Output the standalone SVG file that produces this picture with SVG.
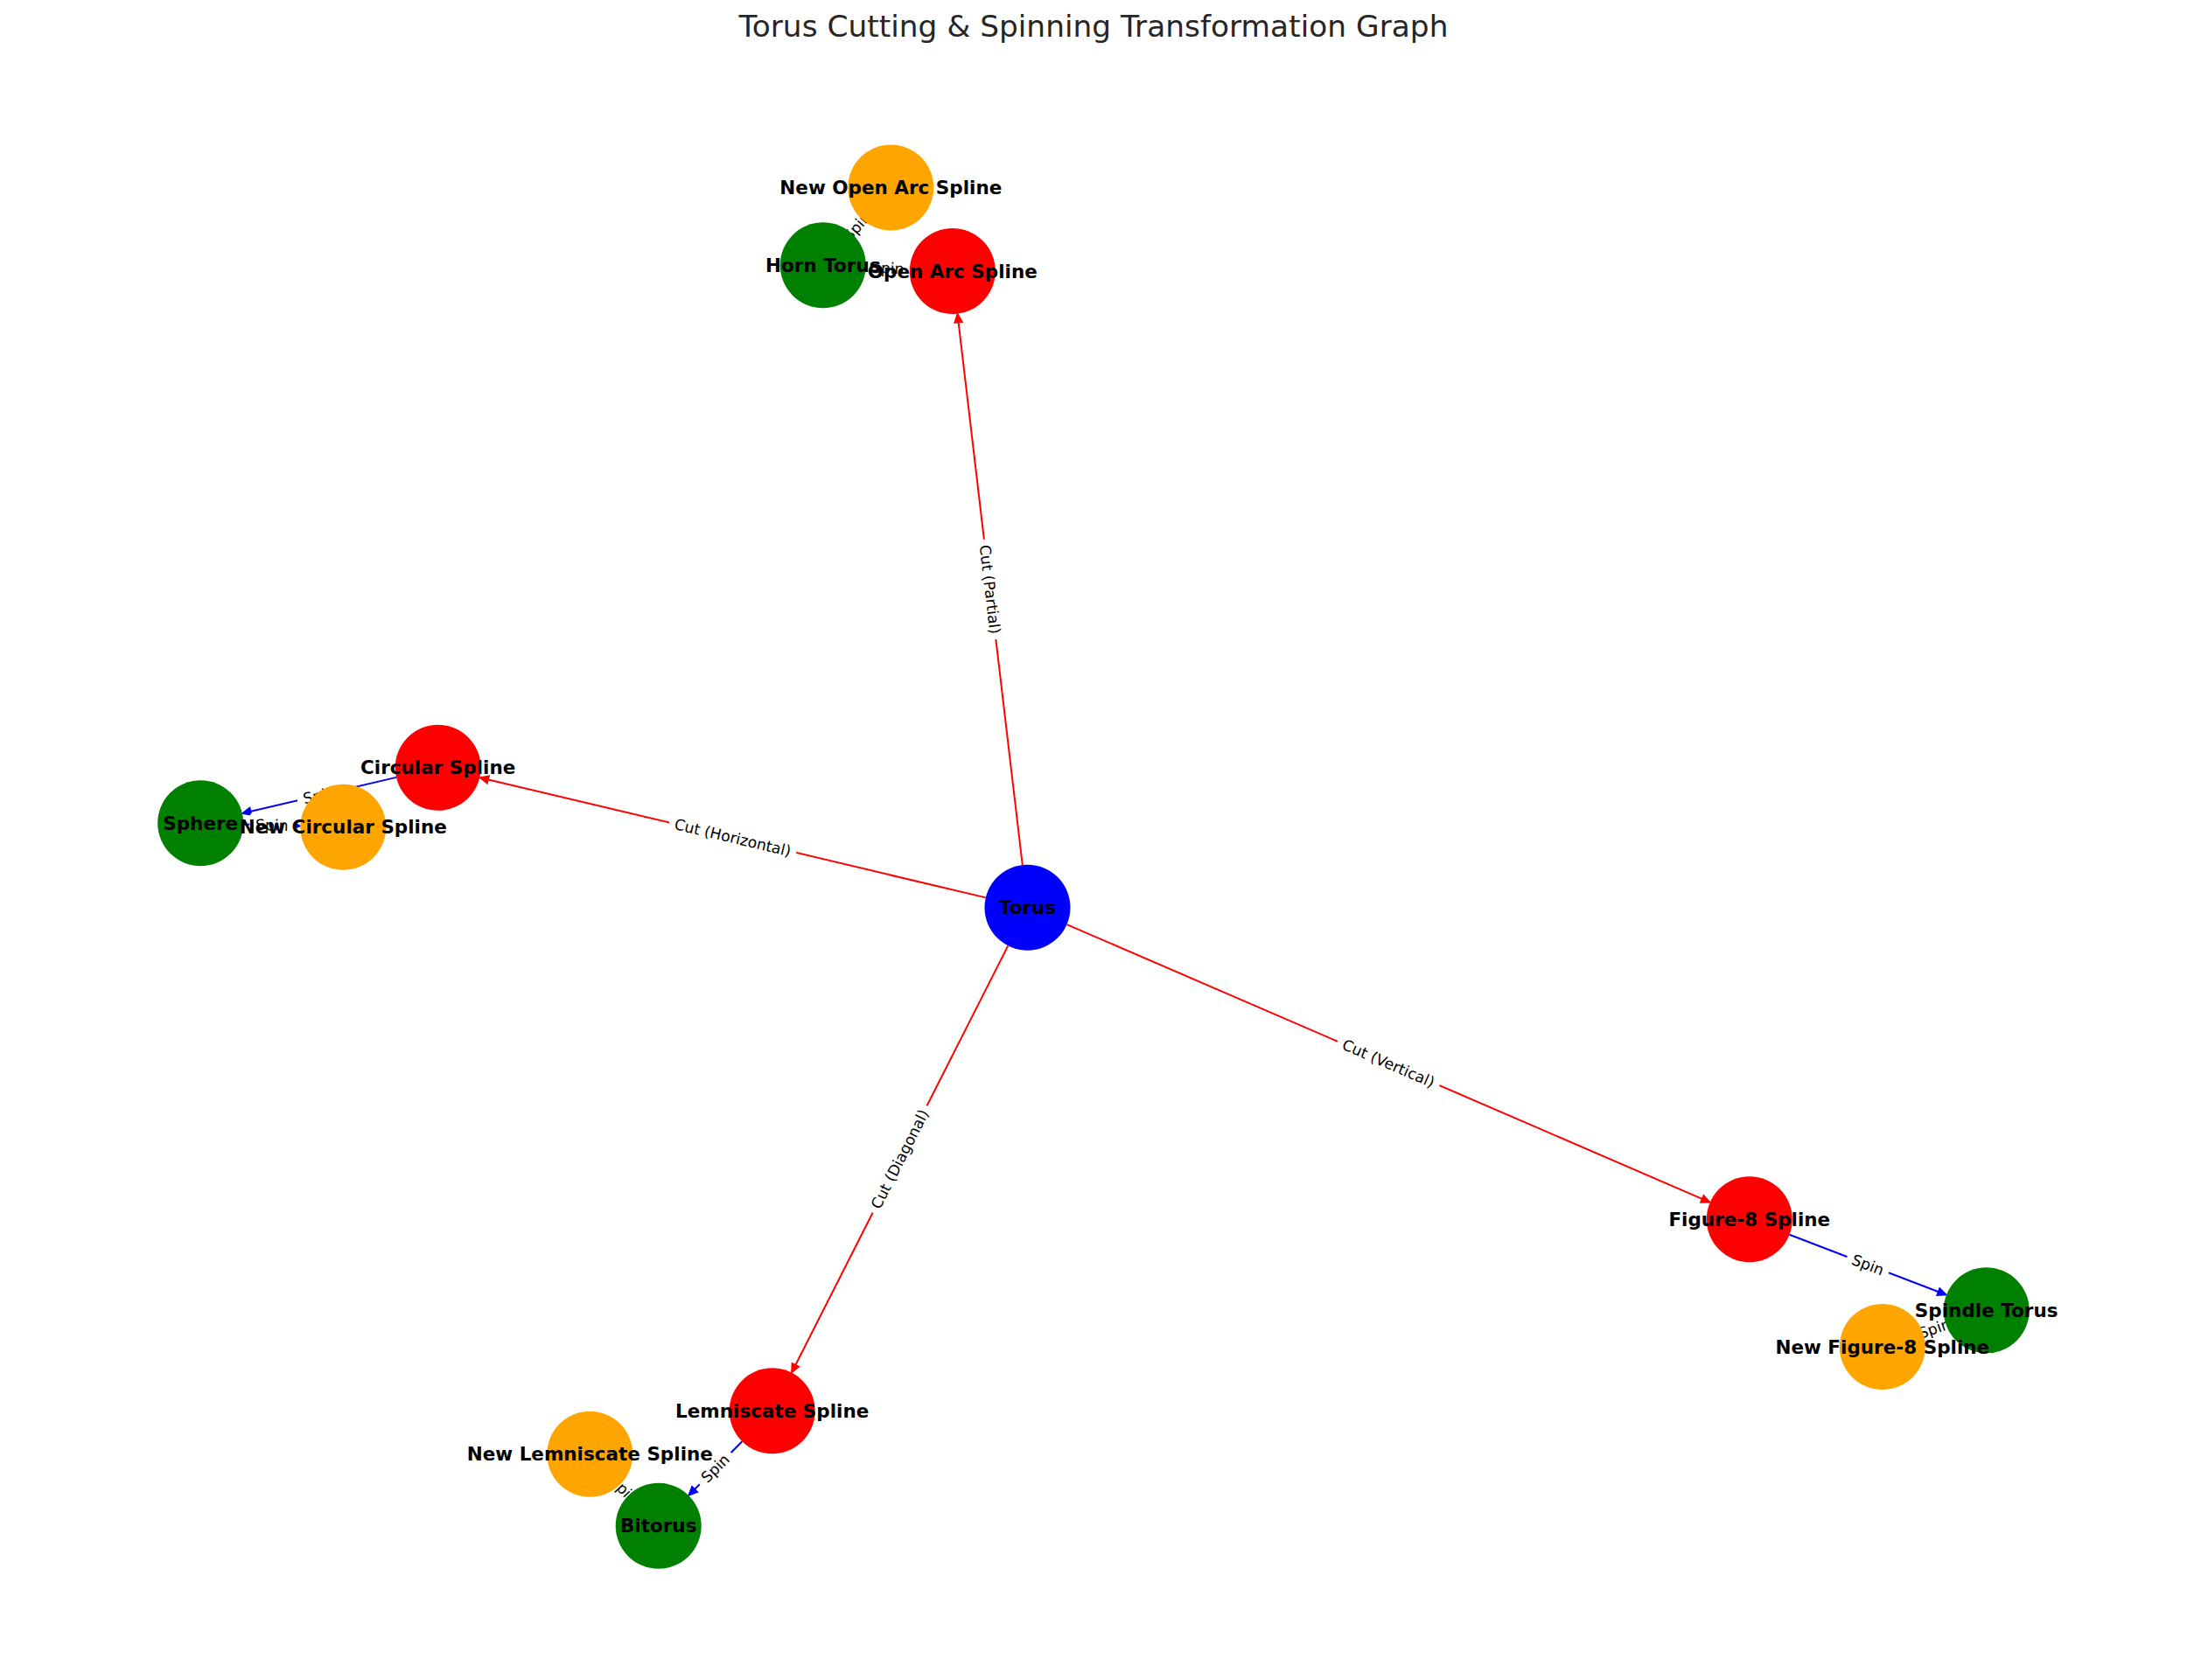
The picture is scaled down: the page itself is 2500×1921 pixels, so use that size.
<svg xmlns="http://www.w3.org/2000/svg" width="2500" height="1921" viewBox="0 0 2500 1921">
<style>
.e{stroke-width:2;fill:none}
.er{stroke:#ff0000}
.eb{stroke:#0000ff}
.lb{fill:#fff;stroke:#fff}
.lt{font-family:"DejaVu Sans",sans-serif;font-size:17.2px;fill:#000;text-anchor:middle}
.nl{font-family:"DejaVu Sans",sans-serif;font-size:21.5px;font-weight:bold;fill:#000;text-anchor:middle}
.title{font-family:"DejaVu Sans",sans-serif;font-size:34.4px;fill:#262626;text-anchor:middle}
</style>
<defs>
<marker id="ar" markerUnits="userSpaceOnUse" markerWidth="14" markerHeight="14" viewBox="-1 -6 14 12" refX="2" refY="0" orient="auto"><path d="M0,-4.5 L10,0 L0,4.5 z" fill="#ff0000" stroke="#ff0000" stroke-width="1.5"/></marker>
<marker id="ab" markerUnits="userSpaceOnUse" markerWidth="14" markerHeight="14" viewBox="-1 -6 14 12" refX="2" refY="0" orient="auto"><path d="M0,-4.5 L10,0 L0,4.5 z" fill="#0000ff" stroke="#0000ff" stroke-width="1.5"/></marker>
</defs>
<rect width="2500" height="1921" fill="#fff"/>
<text class="title" x="1250" y="42">Torus Cutting &amp; Spinning Transformation Graph</text>
<g id="connectors">
<line class="e er" x1="1168.8" y1="989.0" x2="1095.4" y2="366.6" marker-end="url(#ar)"/>
<line class="e er" x1="1126.8" y1="1026.4" x2="556.2" y2="891.0" marker-end="url(#ar)"/>
<line class="e er" x1="1219.5" y1="1057.1" x2="1947.5" y2="1371.6" marker-end="url(#ar)"/>
<line class="e er" x1="1152.3" y1="1081.4" x2="908.5" y2="1562.5" marker-end="url(#ar)"/>
<line class="e eb" x1="453.0" y1="888.9" x2="284.7" y2="928.2" marker-end="url(#ab)"/>
<line class="e eb" x1="278.2" y1="942.6" x2="335.3" y2="944.2" marker-end="url(#ab)"/>
<line class="e eb" x1="1039.9" y1="307.8" x2="997.7" y2="305.9" marker-end="url(#ab)"/>
<line class="e eb" x1="973.0" y1="266.4" x2="980.8" y2="257.5" marker-end="url(#ab)"/>
<line class="e eb" x1="2045.5" y1="1411.8" x2="2217.5" y2="1477.8" marker-end="url(#ab)"/>
<line class="e eb" x1="2224.5" y1="1514.5" x2="2205.6" y2="1521.1" marker-end="url(#ab)"/>
<line class="e eb" x1="848.3" y1="1648.2" x2="792.8" y2="1704.3" marker-end="url(#ab)"/>
<line class="e eb" x1="718.9" y1="1709.4" x2="713.7" y2="1703.9" marker-end="url(#ab)"/>
</g>
<g id="edge-labels">
<g transform="translate(1131.65,673.85) rotate(83.28)"><rect class="lb" x="-57" y="-14" width="114" height="28" rx="5"/><text class="lt" y="6">Cut (Partial)</text></g>
<g transform="translate(837.6,957.75) rotate(13.35)"><rect class="lb" x="-74" y="-14" width="148" height="28" rx="5"/><text class="lt" y="6">Cut (Horizontal)</text></g>
<g transform="translate(1587.15,1215.95) rotate(23.36)"><rect class="lb" x="-63" y="-14" width="126" height="28" rx="5"/><text class="lt" y="6">Cut (Vertical)</text></g>
<g transform="translate(1028.6,1325.5) rotate(-63.1)"><rect class="lb" x="-68" y="-14" width="136" height="28" rx="5"/><text class="lt" y="6">Cut (Diagonal)</text></g>
<g transform="translate(364.95,909.5) rotate(-13.14)"><rect class="lb" x="-25" y="-14" width="50" height="28" rx="5"/><text class="lt" y="6">Spin</text></g>
<g transform="translate(310.75,943.5) rotate(1.62)"><rect class="lb" x="-25" y="-14" width="50" height="28" rx="5"/><text class="lt" y="6">Spin</text></g>
<g transform="translate(1014.8,306.65) rotate(2.59)"><rect class="lb" x="-25" y="-14" width="50" height="28" rx="5"/><text class="lt" y="6">Spin</text></g>
<g transform="translate(979.55,258.9) rotate(-48.89)"><rect class="lb" x="-25" y="-14" width="50" height="28" rx="5"/><text class="lt" y="6">Spin</text></g>
<g transform="translate(2135.25,1446.25) rotate(21.02)"><rect class="lb" x="-25" y="-14" width="50" height="28" rx="5"/><text class="lt" y="6">Spin</text></g>
<g transform="translate(2211.25,1519.15) rotate(-19.33)"><rect class="lb" x="-25" y="-14" width="50" height="28" rx="5"/><text class="lt" y="6">Spin</text></g>
<g transform="translate(817.7,1679.05) rotate(-45.33)"><rect class="lb" x="-25" y="-14" width="50" height="28" rx="5"/><text class="lt" y="6">Spin</text></g>
<g transform="translate(713.5,1703.75) rotate(46.32)"><rect class="lb" x="-25" y="-14" width="50" height="28" rx="5"/><text class="lt" y="6">Spin</text></g>
</g>
<g id="nodes">
<g id="node-torus"><circle cx="1174.5" cy="1037.7" r="49" fill="#0000ff"/></g>
<g id="node-open-arc-spline"><circle cx="1088.8" cy="310" r="49" fill="#ff0000"/></g>
<g id="node-new-open-arc-spline"><circle cx="1018.3" cy="214.5" r="49" fill="#ffa500"/></g>
<g id="node-horn-torus"><circle cx="940.8" cy="303.3" r="49" fill="#008000"/></g>
<g id="node-circular-spline"><circle cx="500.7" cy="877.8" r="49" fill="#ff0000"/></g>
<g id="node-new-circular-spline"><circle cx="392.3" cy="945.8" r="49" fill="#ffa500"/></g>
<g id="node-sphere"><circle cx="229.2" cy="941.2" r="49" fill="#008000"/></g>
<g id="node-figure-8-spline"><circle cx="1999.8" cy="1394.2" r="49" fill="#ff0000"/></g>
<g id="node-spindle-torus"><circle cx="2270.7" cy="1498.3" r="49" fill="#008000"/></g>
<g id="node-new-figure-8-spline"><circle cx="2151.8" cy="1540" r="49" fill="#ffa500"/></g>
<g id="node-lemniscate-spline"><circle cx="882.7" cy="1613.3" r="49" fill="#ff0000"/></g>
<g id="node-new-lemniscate-spline"><circle cx="674.3" cy="1662.7" r="49" fill="#ffa500"/></g>
<g id="node-bitorus"><circle cx="752.7" cy="1744.8" r="49" fill="#008000"/></g>
</g>
<g id="node-labels">
<text class="nl" x="1174.5" y="1045.2">Torus</text>
<text class="nl" x="1088.8" y="317.5">Open Arc Spline</text>
<text class="nl" x="1018.3" y="222.0">New Open Arc Spline</text>
<text class="nl" x="940.8" y="310.8">Horn Torus</text>
<text class="nl" x="500.7" y="885.3">Circular Spline</text>
<text class="nl" x="392.3" y="953.3">New Circular Spline</text>
<text class="nl" x="229.2" y="948.7">Sphere</text>
<text class="nl" x="1999.8" y="1401.7">Figure-8 Spline</text>
<text class="nl" x="2270.7" y="1505.8">Spindle Torus</text>
<text class="nl" x="2151.8" y="1547.5">New Figure-8 Spline</text>
<text class="nl" x="882.7" y="1620.8">Lemniscate Spline</text>
<text class="nl" x="674.3" y="1670.2">New Lemniscate Spline</text>
<text class="nl" x="752.7" y="1752.3">Bitorus</text>
</g>
</svg>
